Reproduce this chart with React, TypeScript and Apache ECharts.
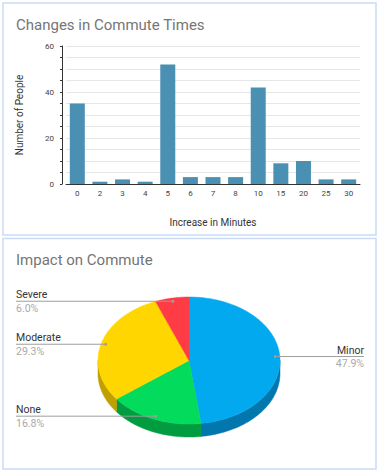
import React, { useEffect, useRef } from "react";
import * as echarts from "echarts";

const barCategories = ["0", "2", "3", "4", "5", "6", "7", "8", "10", "15", "20", "25", "30"];
const barValues = [35, 1, 2, 1, 52, 3, 3, 3, 42, 9, 10, 2, 2];

const pieNames = ["Minor", "None", "Moderate", "Severe"];
const pieValues = [80, 28, 49, 10];
const pieTopColors = ["#03a9ef", "#02db5b", "#ffd600", "#ff3b45"];
const pieSideColors = ["#0277ad", "#009c3f", "#bfa000", "#b8222a"];

const FONT = "Roboto, Arial, sans-serif";

export default function App() {
  const ref = useRef<HTMLDivElement>(null);
  useEffect(() => {
    if (!ref.current) return;
    const chart = echarts.init(ref.current, undefined, { renderer: "svg" });
    const total = pieValues.reduce((a, b) => a + b, 0);
    const cum: number[] = [];
    let acc = 0;
    for (const v of pieValues) {
      cum.push(acc);
      acc += v;
    }
    const cx = 189, cy = 360.5, rx = 91, ry = 63.5, depth = 13;
    const pt = (deg: number, f = 1, dy = 0) => {
      const r = (deg * Math.PI) / 180;
      return [cx + rx * f * Math.sin(r), cy - ry * f * Math.cos(r) + dy];
    };
    const arc = (a: number, b: number, dy = 0) => {
      const pts: number[][] = [];
      const n = Math.max(2, Math.ceil(Math.abs(b - a)));
      for (let i = 0; i <= n; i++) pts.push(pt(a + ((b - a) * i) / n, 1, dy));
      return pts;
    };
    const angles = (i: number) => {
      const a = (cum[i] / total) * 360;
      const b = ((cum[i] + pieValues[i]) / total) * 360;
      return [a, b];
    };

    const sliceRender = (params: any, api: any) => {
      const i = params.dataIndex;
      const [a, b] = angles(i);
      const children: any[] = [];
      const s = Math.max(a, 90), e = Math.min(b, 270);
      if (e > s) {
        const top = arc(s, e);
        const bot = arc(s, e, depth).reverse();
        children.push({
          type: "polygon",
          shape: { points: top.concat(bot) },
          style: { fill: pieSideColors[i], stroke: pieSideColors[i], lineWidth: 0.5 },
        });
      }
      children.push({
        type: "polygon",
        shape: { points: [[cx, cy]].concat(arc(a, b)) },
        style: { fill: pieTopColors[i], stroke: pieTopColors[i], lineWidth: 0.5 },
      });
      return { type: "group", children };
    };

    const labelRender = (params: any, api: any) => {
      const i = params.dataIndex;
      const [a, b] = angles(i);
      const mid = (a + b) / 2;
      const [ax, ay] = pt(mid, 0.95);
      const right = Math.sin((mid * Math.PI) / 180) > 0;
      const tx = right ? 364 : 16;
      const pct = ((api.value(0) / total) * 100).toFixed(1) + "%";
      return {
        type: "group",
        children: [
          {
            type: "line",
            shape: { x1: tx, y1: ay, x2: ax, y2: ay },
            style: { stroke: "#9e9e9e", lineWidth: 1 },
          },
          { type: "circle", shape: { cx: ax, cy: ay, r: 1.5 }, style: { fill: "#9e9e9e" } },
          {
            type: "text",
            x: tx,
            y: ay - 1,
            style: {
              text: pieNames[i],
              fill: "#333333",
              fontSize: 10.5,
              fontFamily: FONT,
              align: right ? "right" : "left",
              verticalAlign: "bottom",
            },
          },
          {
            type: "text",
            x: tx,
            y: ay + 1.5,
            style: {
              text: pct,
              fill: "#aaaaaa",
              fontSize: 10.5,
              fontFamily: FONT,
              align: right ? "right" : "left",
              verticalAlign: "top",
            },
          },
        ],
      };
    };

    chart.setOption({
      animation: false,
      backgroundColor: "#ffffff",
      title: [
        {
          text: "Changes in Commute Times",
          left: 11,
          top: 12,
          textStyle: { fontSize: 15, fontWeight: "normal", color: "#757575", fontFamily: FONT },
        },
        {
          text: "Impact on Commute",
          left: 11,
          top: 247,
          textStyle: { fontSize: 15, fontWeight: "normal", color: "#757575", fontFamily: FONT },
        },
      ],
      graphic: [
        {
          type: "rect",
          shape: { x: 3, y: 3, width: 373, height: 232 },
          style: { fill: "none", stroke: "#c9dbf9", lineWidth: 1.5 },
          z: -1,
        },
        {
          type: "rect",
          shape: { x: 3, y: 238.5, width: 373, height: 230.5 },
          style: { fill: "none", stroke: "#c9dbf9", lineWidth: 1.5 },
          z: -1,
        },
      ],
      grid: { left: 66, top: 46, width: 294, height: 138 },
      xAxis: {
        type: "category",
        data: barCategories,
        name: "Increase in Minutes",
        nameLocation: "middle",
        nameGap: 33,
        nameTextStyle: { fontSize: 10, color: "#333333", fontFamily: FONT },
        axisLine: { lineStyle: { color: "#333333" } },
        axisTick: { show: false },
        axisLabel: { fontSize: 8, color: "#444444", margin: 5, fontFamily: FONT },
      },
      yAxis: {
        type: "value",
        min: 0,
        max: 60,
        interval: 5,
        offset: 4,
        name: "Number of People",
        nameLocation: "middle",
        nameGap: 38,
        nameTextStyle: { fontSize: 10, color: "#333333", fontFamily: FONT },
        axisLine: { show: true, lineStyle: { color: "#333333" } },
        axisTick: { show: true, length: 2, lineStyle: { color: "#333333" } },
        axisLabel: {
          fontSize: 8,
          color: "#444444",
          margin: 8,
          fontFamily: FONT,
          formatter: (v: number) => (v % 20 === 0 ? String(v) : ""),
        },
        splitLine: { lineStyle: { color: "#e6e6e6" } },
      },
      series: [
        {
          type: "bar",
          data: barValues,
          barWidth: 15,
          itemStyle: { color: "#4a90b2" },
        },
        {
          type: "custom",
          coordinateSystem: "none",
          renderItem: sliceRender,
          data: pieValues.map((v) => [v]),
          silent: true,
        },
        {
          type: "custom",
          coordinateSystem: "none",
          renderItem: labelRender,
          data: pieValues.map((v) => [v]),
          silent: true,
          z: 5,
        },
      ],
    });
    return () => chart.dispose();
  }, []);
  return (
    <div
      ref={ref}
      style={{ position: "absolute", left: 0, top: 0, width: 380, height: 475 }}
    />
  );
}
